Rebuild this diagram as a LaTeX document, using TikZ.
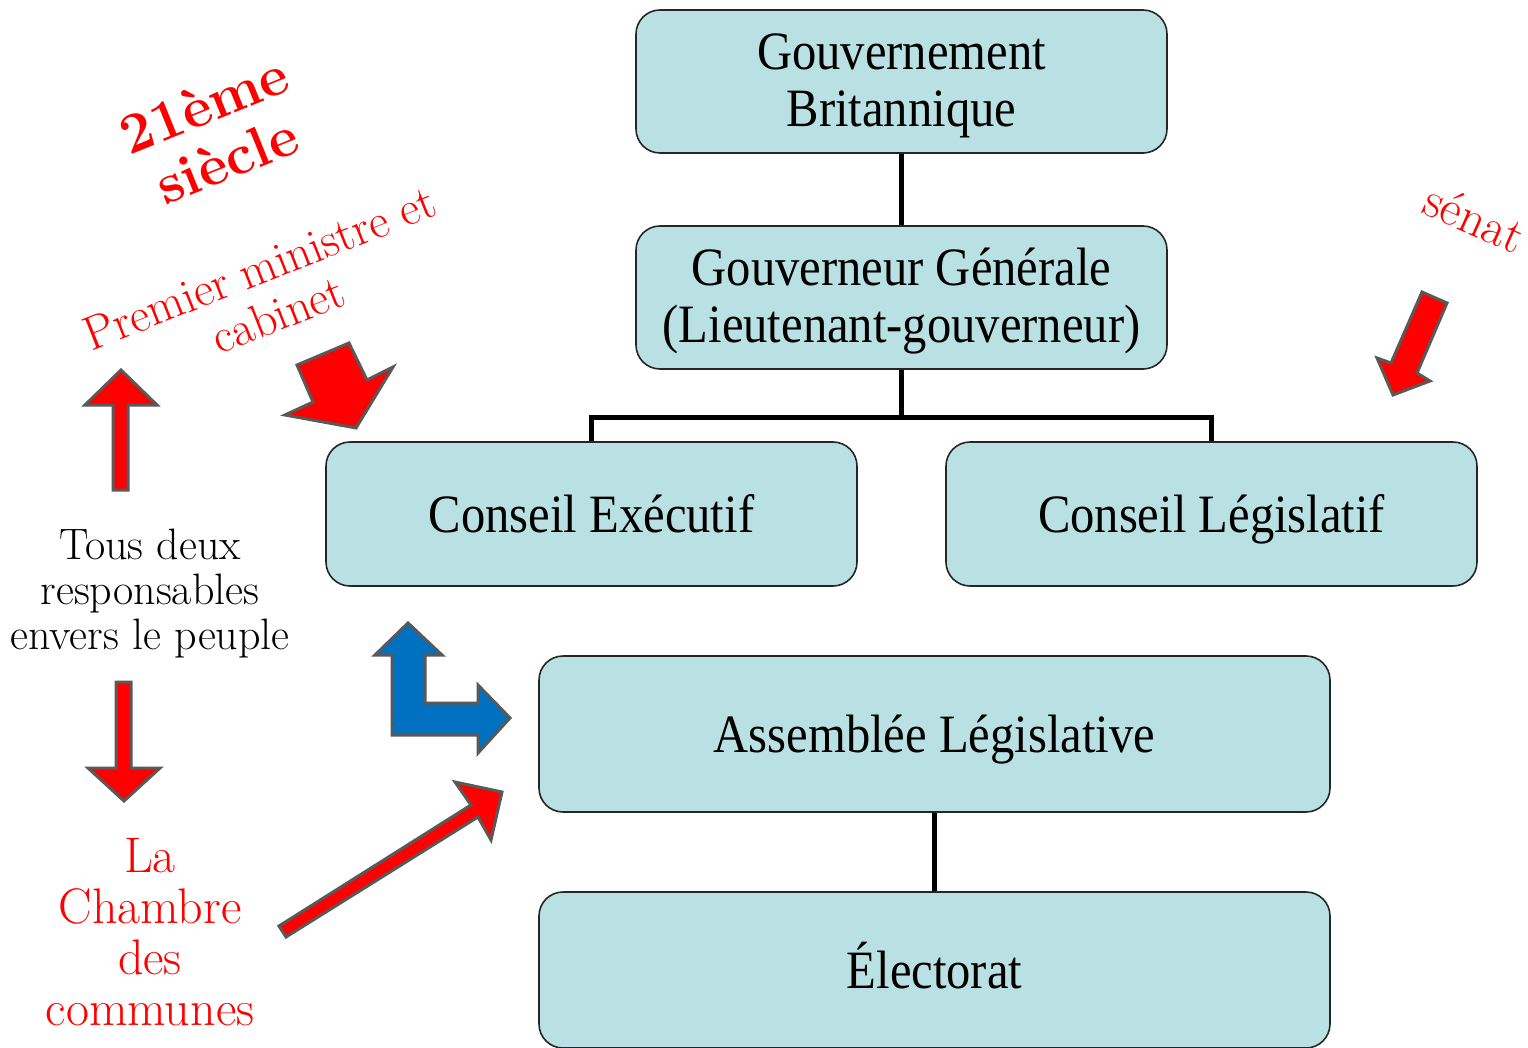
\documentclass[tikz,border=0pt]{standalone}
\usepackage{fontspec}
\newfontfamily\boxfont[FakeStretch=0.9]{Liberation Serif}
\usepackage{tikz}
\usetikzlibrary{positioning}
\definecolor{boxcyan}{RGB}{185,224,227}
\definecolor{arrowgray}{RGB}{89,89,89}
\definecolor{arrowblue}{RGB}{0,112,192}
\tikzset{
  orgbox/.style={ draw=black!85, fill=boxcyan, rounded corners=24pt, line width=1.6pt, align=center, font=\boxfont\fontsize{54}{57}\selectfont }
}
\tikzset{
  oneline/.style={ text height=44pt, text depth=8pt }
}
\tikzset{
  link/.style={ line width=5pt, draw=black }
}
\tikzset{
  redarrow/.style={ fill=red, draw=arrowgray, line width=3pt, line join=miter }
}
\tikzset{
  bluearrow/.style={ fill=arrowblue, draw=arrowgray, line width=3pt, line join=miter }
}
\tikzset{
  note/.style={ align=center, inner sep=0pt }
}

\begin{document}
\begin{tikzpicture}[x=1pt, y=-1pt]
        \useasboundingbox (0,0) rectangle (1528,1048);
        % the boxes
        \node[orgbox, minimum width=531, minimum height=143] (gov) at (901.5, 81.5) {\rule{0pt}{44pt}Gouvernement\\Britannique};
        \node[orgbox, minimum width=531, minimum height=143] (gg) at (901.5, 297.5) {\rule{0pt}{44pt}Gouverneur Générale\\(Lieutenant-gouverneur)};
        \node[orgbox, oneline, minimum width=531, minimum height=144] (ce) at (591.5, 514) {Conseil Exécutif};
        \node[orgbox, oneline, minimum width=531, minimum height=144] (cl) at (1211.5, 514) {Conseil Législatif};
        \node[orgbox, oneline, minimum width=791, minimum height=156] (al) at (934.5, 734) {Assemblée Législative};
        \node[orgbox, oneline, minimum width=791, minimum height=156] (el) at (934.5, 970) {Électorat};
        \coordinate (junc) at (901.5, 417);
        \draw[link] (gov) -- (gg);
        \draw[link] (gg) -- (junc);
        \draw[link] (ce.north) |- (junc) -| (cl.north);
        \draw[link] (al) -- (el);
        % notes
        \node[note, text=red, font=\bfseries\fontsize{57}{60}\selectfont, rotate=22] (siecle) at (215, 132) {21ème\\siècle};
        \node[note, text=red, font=\fontsize{48}{50}\selectfont, rotate=21.5] (premier) at (269, 291) {Premier ministre et\\cabinet};
        \node[note, text=red, font=\fontsize{50}{50}\selectfont, rotate=-24] (senat) at (1475, 218) {sénat};
        \node[note, font=\fontsize{44}{45}\selectfont] (tous) at (150, 594) {Tous deux\\responsables\\envers le peuple};
        \node[note, text=red, font=\fontsize{50}{51}\selectfont] (chambre) at (150, 932) {La\\Chambre\\des\\communes};
        % block arrows
        \filldraw[redarrow] (121,370) -- (157,405) -- (128,405) -- (128,490) -- (113,490) -- (113,405) -- (85,405) -- cycle;
        \filldraw[redarrow] (116,682) -- (131,682) -- (131,768) -- (160,768) -- (124,801) -- (88,768) -- (116,768) -- cycle;
        \filldraw[redarrow] (297,365) -- (349,343) -- (367,380) -- (393,367) -- (356,428) -- (285,415) -- (313,402) -- cycle;
        \filldraw[redarrow] (1422,292) -- (1447,303) -- (1417,373) -- (1430,381) -- (1393,395) -- (1377,358) -- (1391,363) -- cycle;
        \filldraw[redarrow] (279,926) -- (471,805) -- (455,782) -- (502,792) -- (491,840) -- (478,817) -- (286,937) -- cycle;
        \filldraw[bluearrow] (408,623) -- (442,655) -- (425,655) -- (425,703) -- (478,703) -- (478,685) -- (510,718) -- (478,753) -- (478,735) -- (392,735) -- (392,655) -- (375,655) -- cycle;
      \end{tikzpicture}
\end{document}
